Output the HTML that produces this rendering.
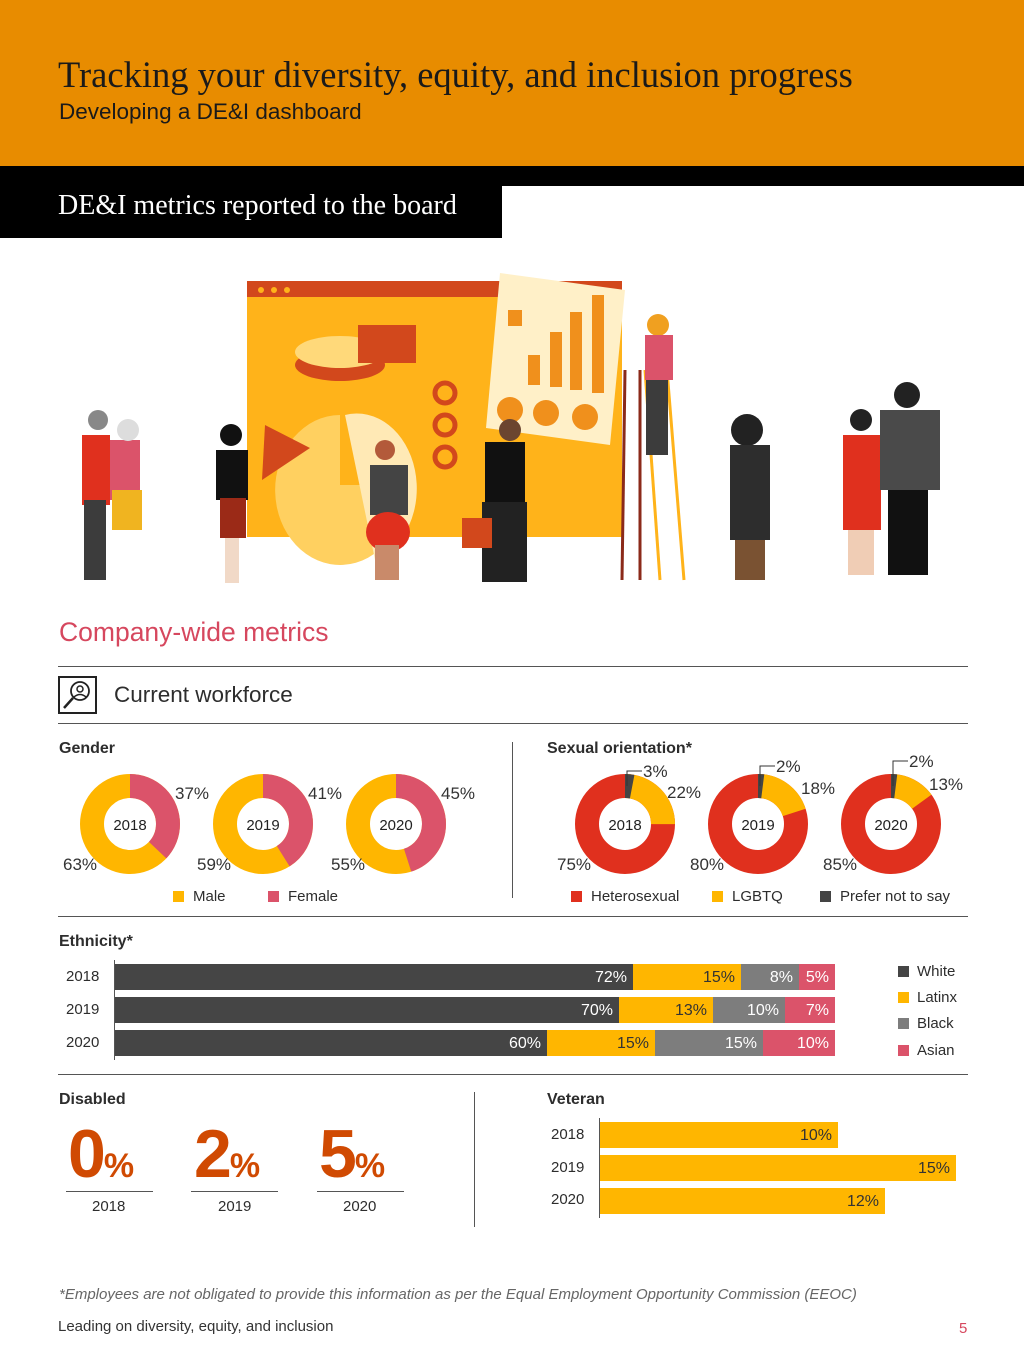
<!DOCTYPE html>
<html><head><meta charset="utf-8"><style>
*{margin:0;padding:0;box-sizing:border-box}
body{width:1024px;height:1367px;position:relative;background:#fff;font-family:"Liberation Sans",sans-serif;color:#2d2d2d;overflow:hidden}
.a{position:absolute;white-space:nowrap}
.serif{font-family:"Liberation Serif",serif}
.h{font-weight:bold;font-size:16px;color:#2d2d2d}
.sq{position:absolute;width:11px;height:11px}
.bar{position:absolute;height:26px;color:#fff;font-size:16px;text-align:right;padding-right:6px;line-height:27px}
.line{position:absolute;height:1px;background:#555}
</style></head><body>
<div class="a" style="left:0;top:0;width:1024px;height:166px;background:#E88C00"></div>
<div class="a serif" style="left:58px;top:53px;font-size:36.5px;color:#1a1a1a">Tracking your diversity, equity, and inclusion progress</div>
<div class="a" style="left:59px;top:99px;font-size:22.5px;color:#1a1a1a">Developing a DE&amp;I dashboard</div>
<div class="a" style="left:0;top:166px;width:1024px;height:20px;background:#000"></div>
<div class="a" style="left:0;top:166px;width:502px;height:72px;background:#000"></div>
<div class="a serif" style="left:58px;top:190px;font-size:28px;color:#fff">DE&amp;I metrics reported to the board</div>

<svg class="a" style="left:0;top:270px" width="1024" height="330">
<rect x="247" y="11" width="375" height="256" fill="#FFB31A"/>
<rect x="247" y="11" width="375" height="16" fill="#D2481C"/>
<circle cx="261" cy="20" r="3" fill="#FFB31A"/><circle cx="274" cy="20" r="3" fill="#FFB31A"/><circle cx="287" cy="20" r="3" fill="#FFB31A"/>
<ellipse cx="340" cy="95" rx="45" ry="16" fill="#D2481C"/><ellipse cx="340" cy="82" rx="45" ry="16" fill="#FFD97A"/>
<rect x="358" y="55" width="58" height="38" fill="#D2481C"/>
<path d="M340 145 A65 75 0 1 0 405 215 L340 215 Z" fill="#FFD060"/>
<path d="M345 145 A60 75 0 0 1 375 290 Z" fill="#FFE9B5"/>
<polygon points="265,155 310,178 262,210" fill="#D2481C"/>
<circle cx="445" cy="123" r="10" fill="none" stroke="#D2481C" stroke-width="5"/>
<circle cx="445" cy="155" r="10" fill="none" stroke="#D2481C" stroke-width="5"/>
<circle cx="445" cy="187" r="10" fill="none" stroke="#D2481C" stroke-width="5"/>
<polygon points="500,3 625,20 610,175 486,158" fill="#FFF0C8"/>
<rect x="508" y="40" width="14" height="16" fill="#F0901C"/>
<rect x="528" y="85" width="12" height="30" fill="#F0901C"/><rect x="550" y="62" width="12" height="55" fill="#F0901C"/><rect x="570" y="42" width="12" height="78" fill="#F0901C"/><rect x="592" y="25" width="12" height="98" fill="#F0901C"/>
<circle cx="510" cy="140" r="13" fill="#F0901C"/><circle cx="546" cy="143" r="13" fill="#F0901C"/><circle cx="585" cy="147" r="13" fill="#F0901C"/>
<g stroke="#8B2A1A" stroke-width="3"><line x1="625" y1="100" x2="622" y2="310"/><line x1="640" y1="100" x2="640" y2="310"/></g>
<g stroke="#FFB31A" stroke-width="3"><line x1="645" y1="100" x2="660" y2="310"/><line x1="667" y1="100" x2="684" y2="310"/></g>
<rect x="82" y="165" width="28" height="70" fill="#E0301E"/><rect x="84" y="230" width="22" height="80" fill="#3c3c3c"/><circle cx="98" cy="150" r="10" fill="#888"/>
<rect x="110" y="170" width="30" height="60" fill="#DB536A"/><rect x="112" y="220" width="30" height="40" fill="#F0B420"/><circle cx="128" cy="160" r="11" fill="#ddd"/>
<circle cx="231" cy="165" r="11" fill="#111"/><rect x="216" y="180" width="32" height="50" fill="#111"/><rect x="220" y="228" width="26" height="40" fill="#9B2A17"/><rect x="225" y="268" width="14" height="45" fill="#f1d9c7"/>
<circle cx="385" cy="180" r="10" fill="#b35a3a"/><rect x="370" y="195" width="38" height="50" fill="#444"/><ellipse cx="388" cy="262" rx="22" ry="20" fill="#E0301E"/><rect x="375" y="275" width="24" height="35" fill="#c98a6a"/>
<circle cx="510" cy="160" r="11" fill="#6b4530"/><rect x="485" y="172" width="40" height="60" fill="#111"/><rect x="482" y="232" width="45" height="80" fill="#222"/><rect x="462" y="248" width="30" height="30" fill="#D2481C"/>
<circle cx="658" cy="55" r="11" fill="#F0A020"/><rect x="645" y="65" width="28" height="45" fill="#DB536A"/><rect x="646" y="110" width="22" height="75" fill="#3c3c3c"/>
<circle cx="747" cy="160" r="16" fill="#222"/><rect x="730" y="175" width="40" height="95" fill="#2d2d2d"/><rect x="735" y="270" width="30" height="40" fill="#7a5232"/>
<circle cx="861" cy="150" r="11" fill="#222"/><rect x="843" y="165" width="38" height="95" fill="#E0301E"/><rect x="848" y="260" width="26" height="45" fill="#f0cdb5"/>
<circle cx="907" cy="125" r="13" fill="#222"/><rect x="880" y="140" width="60" height="80" fill="#4a4a4a"/><rect x="888" y="220" width="40" height="85" fill="#111"/>
</svg>

<div class="a" style="left:59px;top:617px;font-size:26.5px;color:#D6475E">Company-wide metrics</div>
<div class="line" style="left:58px;top:666px;width:910px"></div>
<div class="a" style="left:58px;top:676px;width:39px;height:38px;border:2px solid #222"></div>
<svg class="a" style="left:60px;top:678px" width="35" height="34"><circle cx="20" cy="13" r="9" fill="none" stroke="#222" stroke-width="1.8"/><circle cx="20" cy="11" r="3" fill="none" stroke="#222" stroke-width="1.5"/><path d="M14 19 Q20 14 26 19" fill="none" stroke="#222" stroke-width="1.5"/><line x1="13" y1="20" x2="4" y2="30" stroke="#222" stroke-width="2.5"/></svg>
<div class="a" style="left:114px;top:682px;font-size:22.5px;color:#2d2d2d">Current workforce</div>
<div class="line" style="left:58px;top:723px;width:910px"></div>

<div class="a h" style="left:59px;top:740px">Gender</div>
<div class="a h" style="left:547px;top:740px">Sexual orientation*</div>
<div class="a" style="left:512px;top:742px;width:1px;height:156px;background:#555"></div>

<svg class="a" style="left:0;top:740px" width="1024" height="180" font-family="Liberation Sans" font-size="17" fill="#333">
<g transform="translate(130,84) rotate(-90)" fill="none" stroke-width="24">
<circle r="38" stroke="#FFB600"/><circle r="38" stroke="#DB536A" stroke-dasharray="88.3 300"/></g>
<g transform="translate(263,84) rotate(-90)" fill="none" stroke-width="24">
<circle r="38" stroke="#FFB600"/><circle r="38" stroke="#DB536A" stroke-dasharray="97.9 300"/></g>
<g transform="translate(396,84) rotate(-90)" fill="none" stroke-width="24">
<circle r="38" stroke="#FFB600"/><circle r="38" stroke="#DB536A" stroke-dasharray="107.4 300"/></g>
<g transform="translate(625,84) rotate(-90)" fill="none" stroke-width="24">
<circle r="38" stroke="#E0301E"/><circle r="38" stroke="#FFB600" stroke-dasharray="59.7 300"/><circle r="38" stroke="#444" stroke-dasharray="7.2 300"/></g>
<g transform="translate(758,84) rotate(-90)" fill="none" stroke-width="24">
<circle r="38" stroke="#E0301E"/><circle r="38" stroke="#FFB600" stroke-dasharray="47.8 300"/><circle r="38" stroke="#444" stroke-dasharray="4.8 300"/></g>
<g transform="translate(891,84) rotate(-90)" fill="none" stroke-width="24">
<circle r="38" stroke="#E0301E"/><circle r="38" stroke="#FFB600" stroke-dasharray="35.8 300"/><circle r="38" stroke="#444" stroke-dasharray="4.8 300"/></g>
<g text-anchor="middle" font-size="15" fill="#222"><text x="130" y="90">2018</text><text x="263" y="90">2019</text><text x="396" y="90">2020</text><text x="625" y="90">2018</text><text x="758" y="90">2019</text><text x="891" y="90">2020</text></g>
<text x="175" y="59">37%</text><text x="63" y="130">63%</text>
<text x="308" y="59">41%</text><text x="197" y="130">59%</text>
<text x="441" y="59">45%</text><text x="331" y="130">55%</text>
<text x="643" y="37">3%</text><text x="667" y="58">22%</text><text x="557" y="130">75%</text>
<text x="776" y="32">2%</text><text x="801" y="54">18%</text><text x="690" y="130">80%</text>
<text x="909" y="27">2%</text><text x="929" y="50">13%</text><text x="823" y="130">85%</text>
<g fill="none" stroke="#333" stroke-width="1"><path d="M627 46 V31 H642"/><path d="M760 46 V26 H775"/><path d="M893 46 V21 H908"/></g>
</svg>
<div class="sq" style="left:173px;top:891px;background:#FFB600"></div><div class="a" style="left:193px;top:888px;font-size:15px">Male</div>
<div class="sq" style="left:268px;top:891px;background:#DB536A"></div><div class="a" style="left:288px;top:888px;font-size:15px">Female</div>
<div class="sq" style="left:571px;top:891px;background:#E0301E"></div><div class="a" style="left:591px;top:888px;font-size:15px">Heterosexual</div>
<div class="sq" style="left:712px;top:891px;background:#FFB600"></div><div class="a" style="left:732px;top:888px;font-size:15px">LGBTQ</div>
<div class="sq" style="left:820px;top:891px;background:#444"></div><div class="a" style="left:840px;top:888px;font-size:15px">Prefer not to say</div>
<div class="line" style="left:58px;top:916px;width:910px"></div>

<div class="a h" style="left:59px;top:933px">Ethnicity*</div>
<div class="a" style="left:114px;top:960px;width:1px;height:100px;background:#555"></div>
<div class="a" style="left:66px;top:968px;font-size:15px">2018</div>
<div class="a" style="left:66px;top:1001px;font-size:15px">2019</div>
<div class="a" style="left:66px;top:1034px;font-size:15px">2020</div>
<div class="bar" style="left:115px;top:964px;width:518px;background:#454545">72%</div>
<div class="bar" style="left:633px;top:964px;width:108px;background:#FFB600;color:#333">15%</div>
<div class="bar" style="left:741px;top:964px;width:58px;background:#7d7d7d">8%</div>
<div class="bar" style="left:799px;top:964px;width:36px;background:#DB536A">5%</div>
<div class="bar" style="left:115px;top:997px;width:504px;background:#454545">70%</div>
<div class="bar" style="left:619px;top:997px;width:94px;background:#FFB600;color:#333">13%</div>
<div class="bar" style="left:713px;top:997px;width:72px;background:#7d7d7d">10%</div>
<div class="bar" style="left:785px;top:997px;width:50px;background:#DB536A">7%</div>
<div class="bar" style="left:115px;top:1030px;width:432px;background:#454545">60%</div>
<div class="bar" style="left:547px;top:1030px;width:108px;background:#FFB600;color:#333">15%</div>
<div class="bar" style="left:655px;top:1030px;width:108px;background:#7d7d7d">15%</div>
<div class="bar" style="left:763px;top:1030px;width:72px;background:#DB536A">10%</div>
<div class="sq" style="left:898px;top:966px;background:#454545"></div><div class="a" style="left:917px;top:963px;font-size:15px">White</div>
<div class="sq" style="left:898px;top:992px;background:#FFB600"></div><div class="a" style="left:917px;top:989px;font-size:15px">Latinx</div>
<div class="sq" style="left:898px;top:1018px;background:#7d7d7d"></div><div class="a" style="left:917px;top:1015px;font-size:15px">Black</div>
<div class="sq" style="left:898px;top:1045px;background:#DB536A"></div><div class="a" style="left:917px;top:1042px;font-size:15px">Asian</div>
<div class="line" style="left:58px;top:1074px;width:910px"></div>

<div class="a h" style="left:59px;top:1091px">Disabled</div>
<div class="a" style="left:474px;top:1092px;width:1px;height:135px;background:#555"></div>
<div class="a" style="left:68px;top:1115px;font-size:68px;font-weight:bold;color:#D04A02;letter-spacing:-2px">0<span style="font-size:34px">%</span></div>
<div class="a" style="left:194px;top:1115px;font-size:68px;font-weight:bold;color:#D04A02;letter-spacing:-2px">2<span style="font-size:34px">%</span></div>
<div class="a" style="left:319px;top:1115px;font-size:68px;font-weight:bold;color:#D04A02;letter-spacing:-2px">5<span style="font-size:34px">%</span></div>
<div class="line" style="left:66px;top:1191px;width:87px"></div>
<div class="line" style="left:191px;top:1191px;width:87px"></div>
<div class="line" style="left:317px;top:1191px;width:87px"></div>
<div class="a" style="left:92px;top:1198px;font-size:15px">2018</div>
<div class="a" style="left:218px;top:1198px;font-size:15px">2019</div>
<div class="a" style="left:343px;top:1198px;font-size:15px">2020</div>

<div class="a h" style="left:547px;top:1091px">Veteran</div>
<div class="a" style="left:599px;top:1118px;width:1px;height:100px;background:#555"></div>
<div class="a" style="left:551px;top:1126px;font-size:15px">2018</div>
<div class="a" style="left:551px;top:1159px;font-size:15px">2019</div>
<div class="a" style="left:551px;top:1191px;font-size:15px">2020</div>
<div class="bar" style="left:600px;top:1122px;width:238px;background:#FFB600;color:#333">10%</div>
<div class="bar" style="left:600px;top:1155px;width:356px;background:#FFB600;color:#333">15%</div>
<div class="bar" style="left:600px;top:1188px;width:285px;background:#FFB600;color:#333">12%</div>

<div class="a" style="left:59px;top:1286px;font-size:15px;font-style:italic;color:#666">*Employees are not obligated to provide this information as per the Equal Employment Opportunity Commission (EEOC)</div>
<div class="a" style="left:58px;top:1318px;font-size:15px;color:#333">Leading on diversity, equity, and inclusion</div>
<div class="a" style="left:959px;top:1320px;font-size:15px;color:#D6475E">5</div>
</body></html>
